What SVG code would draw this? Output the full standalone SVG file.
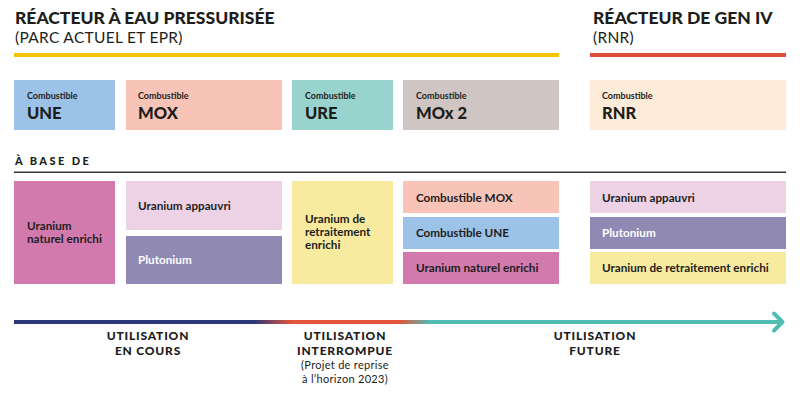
<svg xmlns="http://www.w3.org/2000/svg" width="800" height="395" viewBox="0 0 800 395">
<style>
text{font-family:Lato,"Open Sans","Liberation Sans",sans-serif;fill:#1d1d1b}
.t{font-weight:900;font-size:17.5px}
.st{font-size:15.5px;font-weight:400;letter-spacing:0.3px}
.sm{font-size:9px;font-weight:700}
.big{font-size:16.5px;font-weight:900}
.b{font-size:11.7px;font-weight:700}
.w{fill:#ffffff}
.lab{font-size:12px;font-weight:900;letter-spacing:0.8px;text-anchor:middle}
.note{font-size:11px;font-weight:400;letter-spacing:0.3px;text-anchor:middle}
</style>
<defs>
<linearGradient id="g" x1="14" y1="0" x2="785" y2="0" gradientUnits="userSpaceOnUse">
<stop offset="0" stop-color="#2a3677"/>
<stop offset="0.31" stop-color="#2a3677"/>
<stop offset="0.36" stop-color="#e2553c"/>
<stop offset="0.5" stop-color="#e2553c"/>
<stop offset="0.54" stop-color="#4fbdb3"/>
<stop offset="1" stop-color="#4fbdb3"/>
</linearGradient>
</defs>
<rect width="800" height="395" fill="#ffffff"/>
<g id="header-rep">
<text class="t" x="15" y="24">RÉACTEUR À EAU PRESSURISÉE</text>
<text class="st" x="15" y="43">(PARC ACTUEL ET EPR)</text>
<rect x="14" y="53" width="545" height="4" fill="#f6c500"/>
</g>
<g id="header-gen4">
<text class="t" x="593" y="24">RÉACTEUR DE GEN IV</text>
<text class="st" x="593" y="43">(RNR)</text>
<rect x="590" y="53" width="196" height="4" fill="#de4f3a"/>
</g>
<g id="fuel-une"><rect x="14" y="80" width="101" height="50" fill="#9cc2e7"/><text class="sm" x="27" y="99">Combustible</text><text class="big" x="27" y="119">UNE</text></g>
<g id="fuel-mox"><rect x="126" y="80" width="156" height="50" fill="#f8c4b8"/><text class="sm" x="138" y="99">Combustible</text><text class="big" x="138" y="119">MOX</text></g>
<g id="fuel-ure"><rect x="292" y="80" width="101" height="50" fill="#98d3ce"/><text class="sm" x="305" y="99">Combustible</text><text class="big" x="305" y="119">URE</text></g>
<g id="fuel-mox2"><rect x="403" y="80" width="156" height="50" fill="#cfc6c3"/><text class="sm" x="416" y="99">Combustible</text><text class="big" x="416" y="119">MOx 2</text></g>
<g id="fuel-rnr"><rect x="590" y="80" width="196" height="50" fill="#fdebd9"/><text class="sm" x="602" y="99">Combustible</text><text class="big" x="602" y="119">RNR</text></g>
<g id="base-de">
<text x="15" y="165" style="font-size:11px;font-weight:900;letter-spacing:2.4px">À BASE DE</text>
<rect x="14" y="171.5" width="772" height="1.5" fill="#333333"/>
</g>
<g id="une-uranium"><rect x="14" y="181" width="101" height="103" fill="#d27aae"/><text class="b" x="27" y="230">Uranium</text><text class="b" x="27" y="243">naturel enrichi</text></g>
<g id="mox-appauvri"><rect x="126" y="181" width="156" height="49" fill="#edd2e6"/><text class="b" x="138" y="210">Uranium appauvri</text></g>
<g id="mox-plutonium"><rect x="126" y="236" width="156" height="48" fill="#8f89b3"/><text class="b w" x="138" y="264">Plutonium</text></g>
<g id="ure-uranium"><rect x="292" y="181" width="101" height="103" fill="#f8eba0"/><text class="b" x="305" y="223">Uranium de</text><text class="b" x="305" y="236">retraitement</text><text class="b" x="305" y="249">enrichi</text></g>
<g id="mox2-mox"><rect x="403" y="181" width="156" height="32" fill="#f8c4b8"/><text class="b" x="416" y="202">Combustible MOX</text></g>
<g id="mox2-une"><rect x="403" y="217" width="156" height="32" fill="#9cc2e7"/><text class="b" x="416" y="237">Combustible UNE</text></g>
<g id="mox2-uranium"><rect x="403" y="252" width="156" height="32" fill="#d27aae"/><text class="b" x="416" y="272">Uranium naturel enrichi</text></g>
<g id="rnr-appauvri"><rect x="590" y="181" width="196" height="32" fill="#edd2e6"/><text class="b" x="602" y="202">Uranium appauvri</text></g>
<g id="rnr-plutonium"><rect x="590" y="217" width="196" height="32" fill="#8f89b3"/><text class="b w" x="602" y="237">Plutonium</text></g>
<g id="rnr-ure"><rect x="590" y="252" width="196" height="32" fill="#f8eba0"/><text class="b" x="602" y="272">Uranium de retraitement enrichi</text></g>
<g id="connectors">
<rect x="14" y="320" width="768" height="4" fill="url(#g)"/>
<polyline points="774,313.5 782.5,322 774,330.5" fill="none" stroke="#4fbdb3" stroke-width="4" stroke-linecap="round" stroke-linejoin="round"/>
</g>
<g id="label-en-cours"><text class="lab" x="148" y="340">UTILISATION</text><text class="lab" x="148" y="355">EN COURS</text></g>
<g id="label-interrompue"><text class="lab" x="345" y="340">UTILISATION</text><text class="lab" x="345" y="355">INTERROMPUE</text><text class="note" x="345" y="369">(Projet de reprise</text><text class="note" x="345" y="382.5">à l’horizon 2023)</text></g>
<g id="label-future"><text class="lab" x="595" y="340">UTILISATION</text><text class="lab" x="595" y="355">FUTURE</text></g>
</svg>
